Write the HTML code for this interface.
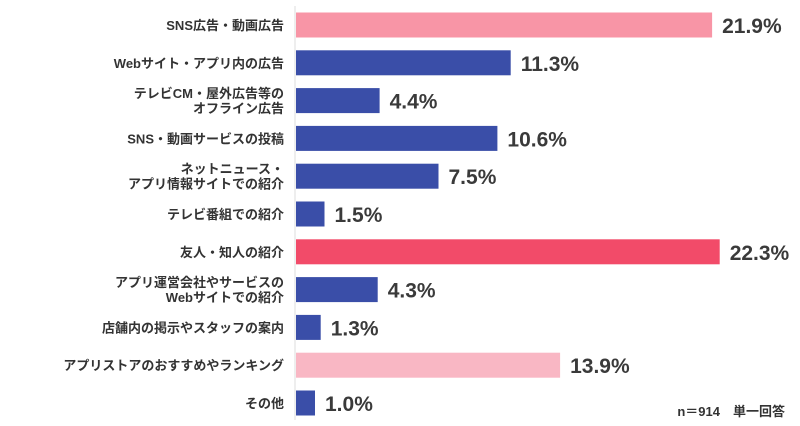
<!DOCTYPE html>
<html><head><meta charset="utf-8"><style>
body{margin:0;background:#fff;}
svg{display:block;font-family:"Liberation Sans","Noto Sans CJK JP",sans-serif;}
</style></head><body>
<svg width="800" height="426" viewBox="0 0 800 426">
<line x1="295" y1="6" x2="295" y2="420" stroke="#ddd" stroke-width="1"/>
<g id="bars"></g>
<text x="785" y="416" text-anchor="end" font-size="13" font-weight="bold" fill="#333">n＝914　単一回答</text>
</svg>
<script>
const categories=[["SNS広告・動画広告"],["Webサイト・アプリ内の広告"],["テレビCM・屋外広告等の","オフライン広告"],["SNS・動画サービスの投稿"],["ネットニュース・","アプリ情報サイトでの紹介"],["テレビ番組での紹介"],["友人・知人の紹介"],["アプリ運営会社やサービスの","Webサイトでの紹介"],["店舗内の掲示やスタッフの案内"],["アプリストアのおすすめやランキング"],["その他"]];
const values=[21.9,11.3,4.4,10.6,7.5,1.5,22.3,4.3,1.3,13.9,1.0];
const colorKeys=["pink","navy","navy","navy","navy","navy","red","navy","navy","lightpink","navy"];
const palette={pink:"#f895a6",navy:"#3a4ea8",red:"#f24b69",lightpink:"#f9b7c4"};
const x0=296,pxPer=19.0,yTop=25,step=37.8,bh=25;
const xs=v=>x0+v*pxPer, ys=i=>yTop+i*step;
const g=document.getElementById('bars'),NS="http://www.w3.org/2000/svg";
values.forEach((v,i)=>{
  const cy=ys(i);
  const r=document.createElementNS(NS,'rect');
  
  
  r.setAttribute('x',x0);r.setAttribute('y',cy-bh/2);
  r.setAttribute('width',xs(v)-x0);r.setAttribute('height',bh);
  r.setAttribute('fill',palette[colorKeys[i]]);
  g.appendChild(r);
  const t=document.createElementNS(NS,'text');
  
  
  t.setAttribute('x',xs(v)+10);t.setAttribute('y',cy+8);
  t.setAttribute('font-size','21');t.setAttribute('font-weight','bold');t.setAttribute('fill','#3a3a3a');
  t.textContent=v.toFixed(1)+'%';
  g.appendChild(t);
  const lines=categories[i];
  lines.forEach((s,j)=>{
    const c=document.createElementNS(NS,'text');
    
    
    c.setAttribute('x',284);
    c.setAttribute('y',cy+5+(j-(lines.length-1)/2)*15);
    c.setAttribute('text-anchor','end');c.setAttribute('font-size','13');c.setAttribute('font-weight','bold');c.setAttribute('fill','#333');
    c.textContent=s;
    g.appendChild(c);
  });
});
</script>
</body></html>
